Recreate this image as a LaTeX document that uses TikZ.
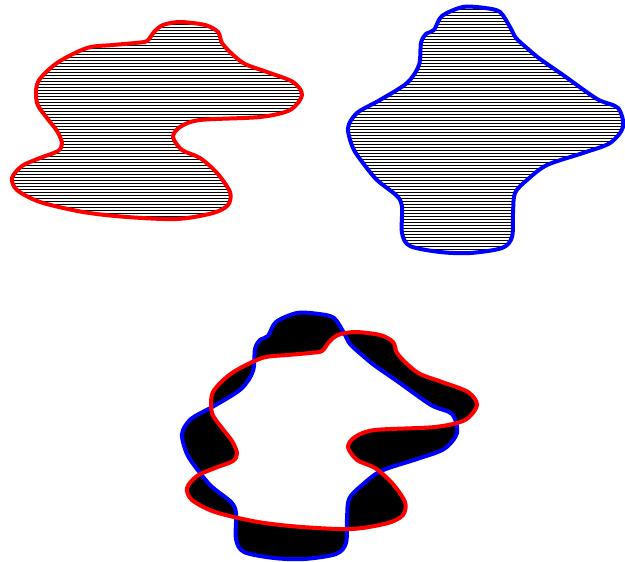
\documentclass[tikz,border=0pt]{standalone}
\usetikzlibrary{patterns}
% Umrisse der beiden Flecken (Pixelkoordinaten)
\newcommand{\redblob}{plot[smooth cycle] coordinates {(113,45) (135,43) (147,41) (154,32) (163,25) (180,22) (205,25) (218,32) (222,43) (232,54) (245,64) (267,72) (293,82) (302,95) (290,110) (260,117) (200,120) (180,127) (173,137) (182,150) (200,158) (217,173) (230,192) (228,205) (213,213) (177,219) (127,217) (83,212) (40,202) (17,190) (12,178) (22,166) (40,158) (58,151) (62,143) (57,131) (47,118) (37,103) (38,82) (57,63) (87,48)}}
\newcommand{\blueblob}{plot[smooth cycle] coordinates {(463,7) (485,8) (500,12) (510,27) (516,38) (528,49) (540,59) (563,75) (597,99) (618,108) (623,127) (610,143) (583,153) (547,165) (527,180) (515,193) (513,213) (512,237) (502,248) (470,253) (440,252) (410,246) (402,233) (402,207) (397,196) (377,180) (363,163) (353,148) (348,128) (357,113) (380,100) (407,83) (419,65) (421,43) (426,34) (434,30) (442,16)}}
\begin{document}
\begin{tikzpicture}[x=1pt, y=-1pt,
				rand/.style={line width=4pt, line join=round},
				schraffur/.style={pattern=horizontal lines}]
				% Bildbereich
				\useasboundingbox (0,0) rectangle (625,562);
				% obere Flecken
				\draw[rand, red, schraffur] \redblob;
				\draw[rand, blue, schraffur] \blueblob;
				% symmetrische Differenz
				\fill[black, even odd rule] {[shift={(175,310)}] \redblob} {[shift={(-166,306)}] \blueblob};
				\draw[rand, blue, shift={(-166,306)}] \blueblob;
				\draw[rand, red, shift={(175,310)}] \redblob;
\end{tikzpicture}
\end{document}
